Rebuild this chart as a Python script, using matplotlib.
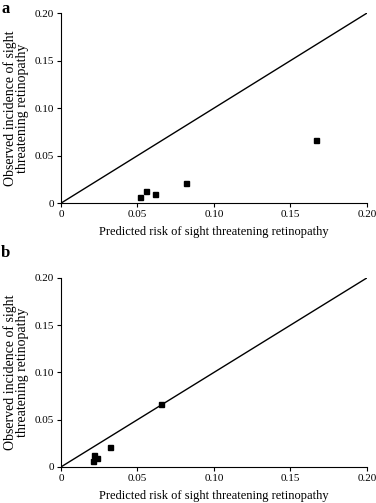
import numpy as np
import matplotlib
matplotlib.use("Agg")
import matplotlib.pyplot as plt

# -----------------------------
# Data
# -----------------------------
observed = [0.0063, 0.0130, 0.0095, 0.0215, 0.0665]
predicted_a = [0.0519, 0.0556, 0.0617, 0.0818, 0.1668]
predicted_b = [0.0207, 0.0216, 0.0238, 0.0321, 0.0656]

ticks = [0, 0.05, 0.10, 0.15, 0.20]
tick_labels = ["0", "0.05", "0.10", "0.15", "0.20"]
identity = [0, 0.20]

plt.rcParams["font.family"] = ["Liberation Serif", "DejaVu Serif"]

fig = plt.figure(figsize=(3.76, 5.03), dpi=100)

panels = [
    ("a", predicted_a, [0.162, 0.596, 0.814, 0.378], (0.003, 0.998)),
    ("b", predicted_b, [0.162, 0.0716, 0.814, 0.376], (0.003, 0.512)),
]

for letter, pred, rect, lpos in panels:
    ax = fig.add_axes(rect)
    ax.plot(identity, identity, color="black", lw=1.0)
    ax.plot(pred, observed, ls="none", marker="s", ms=3.6, color="black")
    ax.set_xlim(0, 0.20)
    ax.set_ylim(0, 0.20)
    ax.set_xticks(ticks)
    ax.set_xticklabels(tick_labels)
    ax.set_yticks(ticks)
    ax.set_yticklabels(tick_labels)
    ax.tick_params(labelsize=8, length=3, width=0.8, pad=2)
    for s in ["top", "right"]:
        ax.spines[s].set_visible(False)
    ax.spines["left"].set_linewidth(0.8)
    ax.spines["bottom"].set_linewidth(0.8)
    ax.set_xlabel("Predicted risk of sight threatening retinopathy", fontsize=9, labelpad=5)
    ax.set_ylabel("Observed incidence of sight\nthreatening retinopathy", fontsize=10,
                  labelpad=4, linespacing=0.95)
    fig.text(lpos[0], lpos[1], letter, fontsize=12, fontweight="bold", va="top", ha="left")

fig.savefig("out.png", dpi=100)
